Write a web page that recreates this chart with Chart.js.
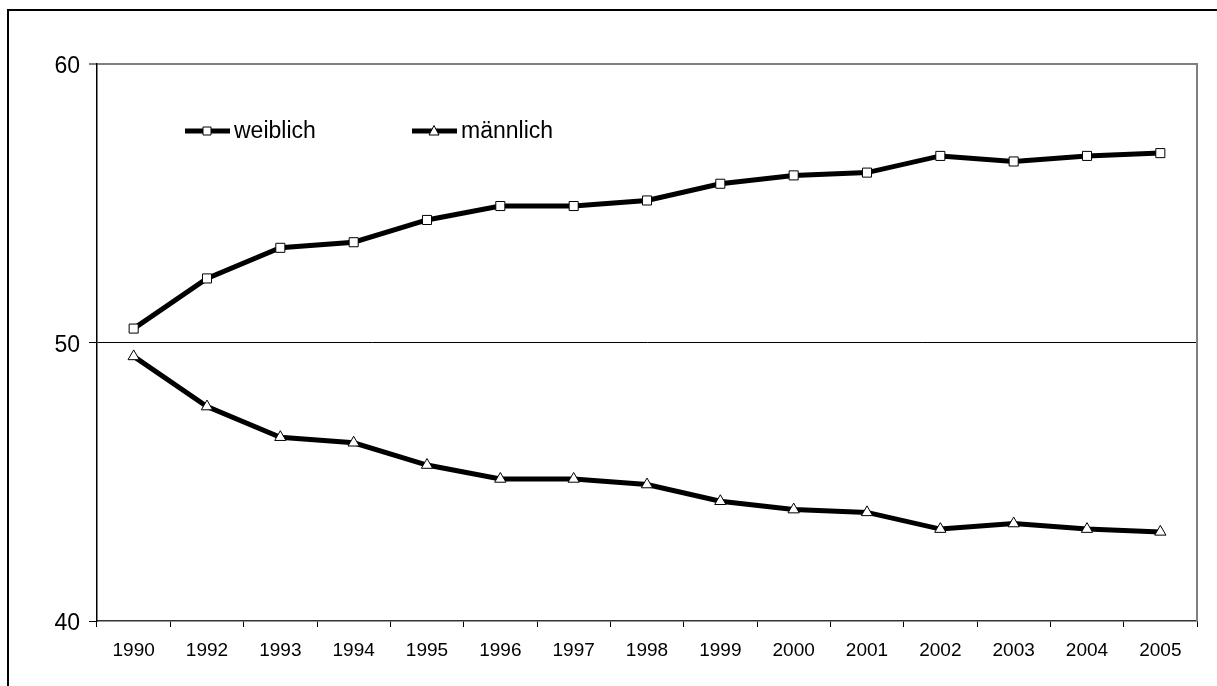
<!DOCTYPE html>
<html>
<head>
<meta charset="utf-8">
<script src="https://cdn.jsdelivr.net/npm/chart.js@4/dist/chart.umd.min.js"></script>
<style>
  html, body { margin: 0; padding: 0; background: #fff; }
  #wrap { width: 1217px; height: 686px; }
</style>
</head>
<body>
<div id="wrap"><canvas id="chart"></canvas></div>
<script>
// Data
const years = ['1990', '1992', '1993', '1994', '1995', '1996', '1997', '1998', '1999', '2000', '2001', '2002', '2003', '2004', '2005'];
const weiblich = [50.5, 52.3, 53.4, 53.6, 54.4, 54.9, 54.9, 55.1, 55.7, 56.0, 56.1, 56.7, 56.5, 56.7, 56.8];
const maennlich = [49.5, 47.7, 46.6, 46.4, 45.6, 45.1, 45.1, 44.9, 44.3, 44.0, 43.9, 43.3, 43.5, 43.3, 43.2];
const yTicks = [40, 50, 60];

Chart.defaults.font.family = "'Liberation Sans', Arial, sans-serif";
Chart.defaults.color = '#000';

// Outer frame (cut off at right and bottom, like the original)
const framePlugin = {
    id: 'frame',
    beforeDraw(chart) {
        const ctx = chart.ctx;
        ctx.save();
        ctx.fillStyle = '#fff';
        ctx.fillRect(0, 0, chart.width, chart.height);
        ctx.strokeStyle = '#000';
        ctx.lineWidth = 2;
        ctx.strokeRect(8, 10, chart.width + 20, chart.height + 20);
        ctx.restore();
    },
    beforeDatasetsDraw(chart) {
        // gray right edge of the plot area
        const a = chart.chartArea;
        const ctx = chart.ctx;
        ctx.save();
        ctx.strokeStyle = '#808080';
        ctx.lineWidth = 2;
        ctx.beginPath();
        ctx.moveTo(a.right, a.top - 1);
        ctx.lineTo(a.right, a.bottom);
        ctx.stroke();
        ctx.restore();
    }
};

// Legend drawn inside the plot, line with marker in the middle
const lineLegend = {
    id: 'lineLegend',
    afterDraw(chart) {
        const ctx = chart.ctx;
        const spots = [{ x: 185, y: 131 }, { x: 412, y: 131 }];
        ctx.save();
        chart.data.datasets.forEach((ds, i) => {
            const p = spots[i];
            ctx.strokeStyle = '#000';
            ctx.lineWidth = 5;
            ctx.beginPath();
            ctx.moveTo(p.x, p.y);
            ctx.lineTo(p.x + 45, p.y);
            ctx.stroke();
            const cx = p.x + 22;
            ctx.lineWidth = 1;
            ctx.fillStyle = '#fff';
            ctx.beginPath();
            if (ds.pointStyle === 'rect') {
                ctx.rect(cx - 4, p.y - 4, 8, 8);
            } else {
                ctx.moveTo(cx, p.y - 5.5);
                ctx.lineTo(cx + 5, p.y + 4);
                ctx.lineTo(cx - 5, p.y + 4);
                ctx.closePath();
            }
            ctx.fill();
            ctx.stroke();
            ctx.fillStyle = '#000';
            ctx.font = "23px 'Liberation Sans', Arial, sans-serif";
            ctx.textBaseline = 'middle';
            ctx.fillText(ds.label, p.x + 49, p.y + 1);
        });
        ctx.restore();
    }
};

const ctx = document.getElementById('chart').getContext('2d');
const chart = new Chart(ctx, {
    type: 'line',
    data: {
        labels: years,
        datasets: [{
            label: 'weiblich',
            data: weiblich,
            borderColor: '#000',
            borderWidth: 5,
            pointStyle: 'rect',
            pointRadius: 6.4,
            pointBackgroundColor: '#fff',
            pointBorderColor: '#000',
            pointBorderWidth: 1,
            tension: 0
        }, {
            label: 'männlich',
            data: maennlich,
            borderColor: '#000',
            borderWidth: 5,
            pointStyle: 'triangle',
            pointRadius: 6.5,
            pointBackgroundColor: '#fff',
            pointBorderColor: '#000',
            pointBorderWidth: 1,
            tension: 0
        }]
    },
    options: {
        responsive: true,
        maintainAspectRatio: false,
        animation: false,
        layout: {
            padding: { top: 64, right: 20, bottom: 0, left: 0 }
        },
        plugins: {
            legend: { display: false },
            tooltip: { enabled: false }
        },
        scales: {
            x: {
                offset: true,
                afterFit: function (scale) { scale.height = 65; },
                grid: {
                    offset: true,
                    color: 'rgba(0,0,0,0)',
                    tickColor: '#000',
                    tickLength: 6,
                    tickWidth: 1
                },
                border: { color: '#333', width: 1.5 },
                ticks: {
                    font: { size: 19 },
                    color: '#000',
                    padding: 12,
                    maxRotation: 0,
                    autoSkip: false
                }
            },
            y: {
                min: 40,
                max: 60,
                afterFit: function (scale) { scale.width = 97; },
                afterBuildTicks: function (scale) {
                    scale.ticks = yTicks.map(v => ({ value: v }));
                },
                grid: {
                    color: function (c) {
                        if (c.tick.value === 50) return '#000';
                        if (c.tick.value === 60) return '#808080';
                        return 'rgba(0,0,0,0)';
                    },
                    lineWidth: function (c) { return c.tick.value === 60 ? 2 : 1; },
                    tickColor: '#000',
                    tickLength: 8,
                    tickWidth: 1
                },
                border: { color: '#000', width: 1.5 },
                ticks: {
                    font: { size: 23 },
                    color: '#000',
                    padding: 9,
                    labelOffset: 3
                }
            }
        }
    },
    plugins: [framePlugin, lineLegend]
});
</script>
</body>
</html>
